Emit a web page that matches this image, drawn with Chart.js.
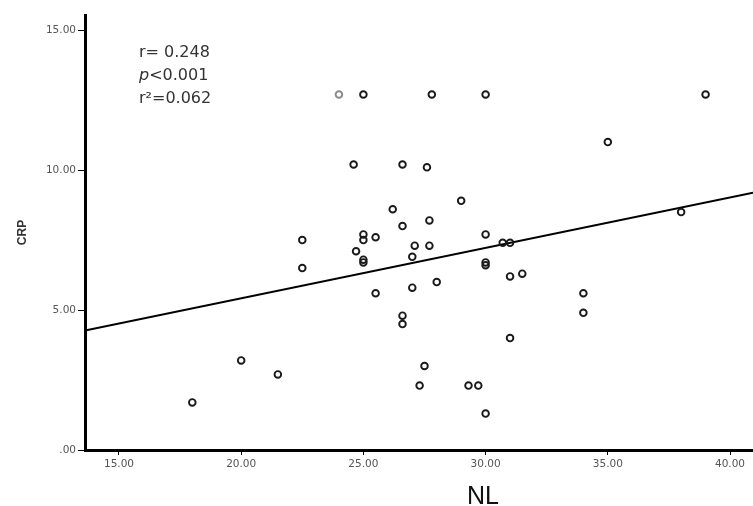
<!DOCTYPE html>
<html>
<head>
<meta charset="utf-8">
<script src="https://cdn.jsdelivr.net/npm/chart.js@4"></script>
<style>
html,body{margin:0;padding:0;background:#fff;}
#wrap{width:753px;height:506px;}
</style>
</head>
<body>
<div id="wrap"><canvas id="c" width="753" height="506"></canvas></div>
<script>
// NL (x) values
const nlValues = [24.0,25.0,27.8,30.0,39.0,35.0,24.6,26.6,27.6,29.0,26.2,27.7,26.6,22.5,25.0,25.0,25.5,24.7,25.0,25.0,22.5,27.1,27.7,27.0,30.0,30.7,31.0,38.0,30.0,30.0,31.0,31.5,27.0,28.0,34.0,34.0,26.6,26.6,25.5,31.0,20.0,21.5,18.0,27.5,27.3,29.3,29.7,30.0];
// CRP (y) values
const crpValues = [12.7,12.7,12.7,12.7,12.7,11.0,10.2,10.2,10.1,8.9,8.6,8.2,8.0,7.5,7.7,7.5,7.6,7.1,6.8,6.7,6.5,7.3,7.3,6.9,7.7,7.4,7.4,8.5,6.7,6.6,6.2,6.3,5.8,6.0,5.6,4.9,4.8,4.5,5.6,4.0,3.2,2.7,1.7,3.0,2.3,2.3,2.3,1.3];
// point marked in lighter grey in the source
const greyPointIndex = [0];
// tick labels
const xTickValues = [15,20,25,30,35,40];
const yTickValues = [0,5,10,15];
// axis ranges
const xRange = [13.61, 40.94];
const yRange = [0, 15.54];
// fitted line (CRP = a + b*NL)
const fitIntercept = 1.82;
const fitSlope = 0.180;
// stats text
const statLines = ["r= 0.248", "<0.001", "r\u00B2=0.062"];

const points = nlValues.map((x,i)=>({x:x, y:crpValues[i]}));
const borderColors = nlValues.map((_,i)=> greyPointIndex.includes(i) ? '#8a8a8a' : '#1a1a1a');
const fitLine = xRange.map(x=>({x:x, y:fitIntercept + fitSlope*x}));

const textPlugin = {
  id:'texts',
  afterDraw(chart){
    const ctx = chart.ctx;
    ctx.save();
    ctx.fillStyle = '#333';
    ctx.textBaseline = 'middle';
    ctx.textAlign = 'left';
    const f = '16px "DejaVu Sans", "Open Sans", sans-serif';
    ctx.font = f;
    ctx.fillText(statLines[0], 139, 53);
    ctx.font = 'italic ' + f;
    ctx.fillText('p', 139, 76);
    const pw = ctx.measureText('p').width;
    ctx.font = f;
    ctx.fillText(statLines[1], 139 + pw, 76);
    ctx.fillText(statLines[2], 139, 99);
    // x axis title
    ctx.fillStyle = '#111';
    ctx.textAlign = 'center';
    ctx.font = '25px "Liberation Sans", Arial, sans-serif';
    ctx.fillText('NL', 483, 497);
    ctx.restore();
  }
};

new Chart(document.getElementById('c'), {
  type:'scatter',
  data:{
    datasets:[
      {
        type:'scatter',
        data: points,
        showLine:false,
        pointStyle:'circle',
        pointRadius:3.3,
        pointBorderWidth:1.9,
        pointBackgroundColor:'rgba(255,255,255,0)',
        pointBorderColor: borderColors,
        order:1
      },
      {
        type:'line',
        data: fitLine,
        borderColor:'#000',
        borderWidth:2,
        pointRadius:0,
        fill:false,
        order:2
      }
    ]
  },
  options:{
    responsive:false,
    animation:false,
    layout:{autoPadding:false, padding:{top:15,right:0,left:0,bottom:0}},
    plugins:{legend:{display:false}, tooltip:{enabled:false}, title:{display:false}},
    scales:{
      x:{
        type:'linear',
        min:xRange[0], max:xRange[1],
        afterBuildTicks(s){ s.ticks = xTickValues.map(v=>({value:v})); },
        afterFit(s){ s.height = 56; s.paddingLeft = 0; s.paddingRight = 0; },
        grid:{display:true, drawOnChartArea:false, drawTicks:true, tickLength:5, color:'#000', lineWidth:1},
        border:{display:true, width:3, color:'#000'},
        ticks:{
          color:'#555', padding:3, maxRotation:0, autoSkip:false,
          font:{family:'"DejaVu Sans", Arial, sans-serif', size:10.5},
          callback:(v)=> v===0 ? '.00' : Number(v).toFixed(2)
        },
        title:{display:false}
      },
      y:{
        type:'linear',
        min:yRange[0], max:yRange[1],
        afterBuildTicks(s){ s.ticks = yTickValues.map(v=>({value:v})); },
        afterFit(s){ s.width = 85; s.paddingTop = 0; s.paddingBottom = 0; },
        grid:{display:true, drawOnChartArea:false, drawTicks:true, tickLength:7, color:'#000', lineWidth:1},
        border:{display:true, width:3, color:'#000'},
        ticks:{
          color:'#555', padding:2, autoSkip:false,
          font:{family:'"DejaVu Sans", Arial, sans-serif', size:10.5},
          callback:(v)=> v===0 ? '.00' : Number(v).toFixed(2)
        },
        title:{
          display:true, text:'CRP', color:'#333',
          font:{family:'"Liberation Sans", Arial, sans-serif', size:12, weight:'bold'},
          padding:{top:15,bottom:0}
        }
      }
    }
  },
  plugins:[textPlugin]
});
</script>
</body>
</html>
